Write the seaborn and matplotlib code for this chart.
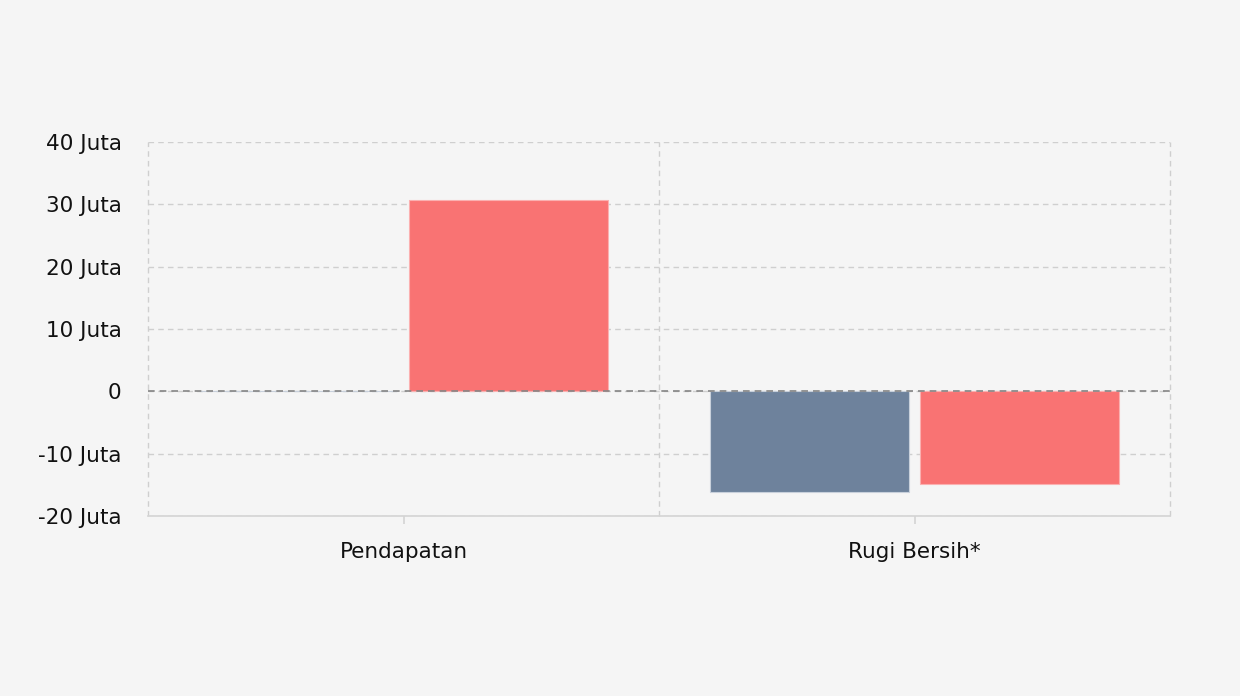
import numpy as np
import pandas as pd
import matplotlib
matplotlib.use('Agg')
import matplotlib.pyplot as plt
import seaborn as sns
from matplotlib.ticker import FuncFormatter

categories = ['Pendapatan', 'Rugi Bersih*']
series_names = ['Periode Lalu', 'Periode Ini']
lalu_values = [0, -16.2e6]
ini_values = [30.7e6, -14.9e6]
y_ticks = [-20e6, -10e6, 0, 10e6, 20e6, 30e6, 40e6]

df = pd.DataFrame({
    'kategori': categories * 2,
    'seri': [series_names[0]] * 2 + [series_names[1]] * 2,
    'nilai': lalu_values + ini_values,
})

sns.set_theme(style='white')
plt.rcParams['font.family'] = ['DejaVu Sans']

bg = '#f5f5f5'
fig = plt.figure(figsize=(12.4, 6.96), dpi=100, facecolor=bg)
ax = fig.add_axes([148 / 1240, 1 - 516 / 696, (1170 - 148) / 1240, (516 - 142) / 696])
ax.set_facecolor(bg)

palette = {series_names[0]: '#6e829c', series_names[1]: '#f97373'}
sns.barplot(data=df, x='kategori', y='nilai', hue='seri', palette=palette,
            width=0.82, gap=0.05, saturation=1, legend=False, ax=ax, zorder=2)
for bar, edge in zip(ax.patches, ['#c8d0db', '#c8d0db', '#fbb0b0', '#fbb0b0']):
    bar.set_edgecolor(edge)
    bar.set_linewidth(0.8)

ax.set_ylim(-20e6, 40e6)
ax.set_xlim(-0.5, len(categories) - 0.5)
ax.set_yticks(y_ticks)
ax.yaxis.set_major_formatter(FuncFormatter(
    lambda v, p: '0' if v == 0 else '{:d} Juta'.format(int(round(v / 1e6)))))

# garis grid horizontal
ax.grid(axis='y', color='#cfcfcf', linestyle=(0, (4, 3)), linewidth=1, zorder=0)
# garis grid vertikal di batas kategori
for xb in np.arange(len(categories) + 1) - 0.5:
    ax.axvline(xb, color='#cfcfcf', linestyle=(0, (4, 3)), linewidth=1, zorder=0, clip_on=False)
ax.axhline(0, color='#858585', linestyle=(0, (4, 3)), linewidth=1.2, zorder=3)

for s in ['top', 'right', 'left']:
    ax.spines[s].set_visible(False)
ax.spines['bottom'].set_color('#d4d4d4')
ax.spines['bottom'].set_linewidth(1.2)

ax.tick_params(axis='x', which='major', bottom=True, length=6, color='#d4d4d4', width=1.2,
               labelsize=15.5, pad=13, labelcolor='#111111')
ax.tick_params(axis='y', length=0, labelsize=15.5, pad=19, labelcolor='#111111')
ax.set_xlabel('')
ax.set_ylabel('')

fig.savefig('out.png', dpi=100, facecolor=bg)
